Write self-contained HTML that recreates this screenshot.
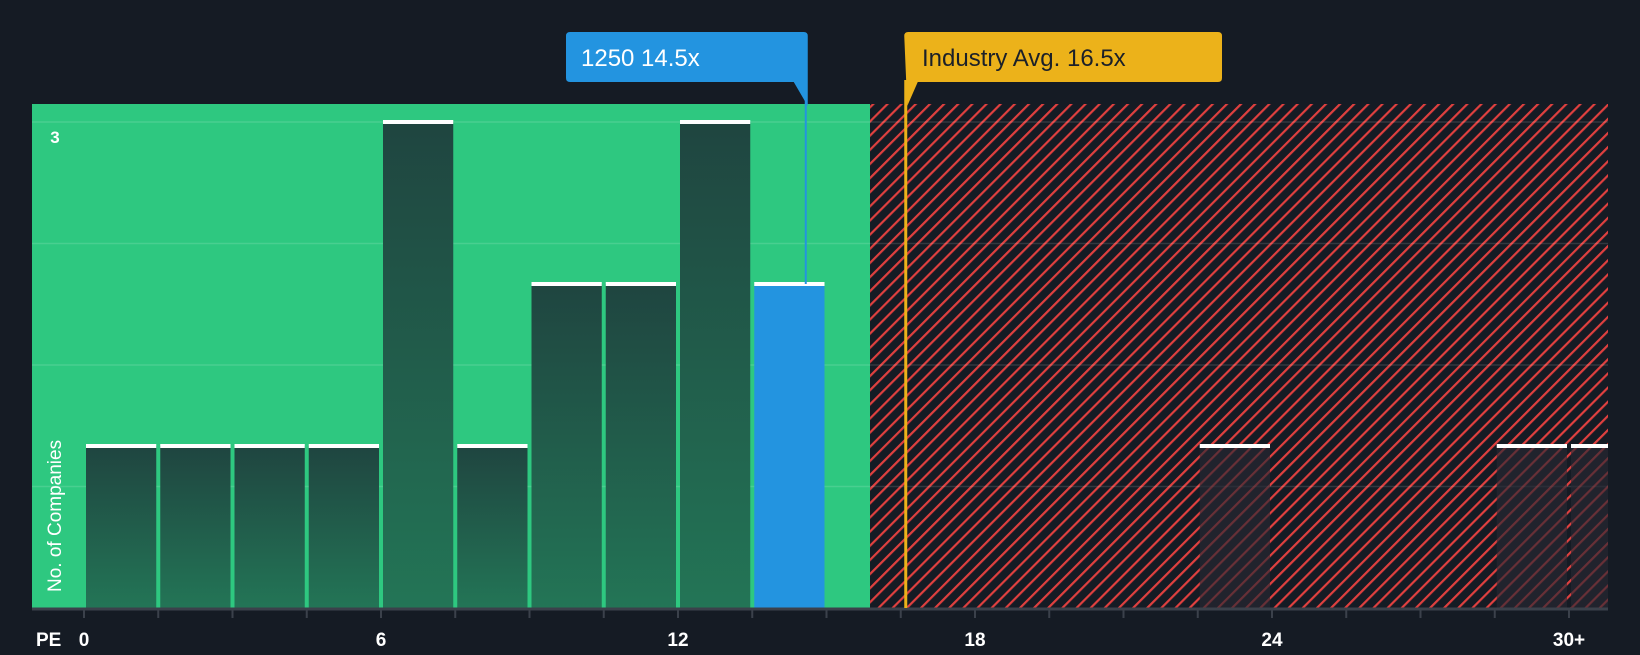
<!DOCTYPE html>
<html><head><meta charset="utf-8"><style>
html,body{margin:0;padding:0;background:#151b24;}
body{width:1640px;height:650px;overflow:hidden;font-family:"Liberation Sans",sans-serif;}
</style></head><body>
<svg width="1640" height="650" xmlns="http://www.w3.org/2000/svg" id="chart">
<defs>
<pattern id="hatch" patternUnits="userSpaceOnUse" width="10" height="10" patternTransform="rotate(45)">
<rect width="10" height="10" fill="#151b24"/>
<rect x="0" y="0" width="2.2" height="10" fill="#e0403f"/>
</pattern>
<linearGradient id="barg" x1="0" y1="0" x2="0" y2="1">
<stop offset="0" stop-color="#1f4540"/><stop offset="1" stop-color="#237556"/>
</linearGradient>
</defs>
<g id="bg"></g>
<g id="grid"></g>
<g id="bars"></g>
<g id="axis"></g>
<g id="markers"></g>
</svg>
<script>
const counts = [1,1,1,1,3,1,2,2,3,2,0,0,0,0,0,1,0,0,0,1,1];
const highlightBin = 9;
const tickLabels = ["0","6","12","18","24","30+"];
const tickValues = [0,6,12,18,24,30];
const companyPE = 14.5;
const industryPE = 16.5;
const fairLimit = 15.88;
const gridValues = [0.75,1.5,2.25,3];

const L=32,R=1608,T=104,B=608;
const x0=84, ppu=49.5, binW=1.5;
const xs=v=>x0+v*ppu;
const ys=c=>B-c*162;
const markerOffset=5;
const NS='http://www.w3.org/2000/svg';
function mk(parent,tag,attrs){const e=document.createElementNS(NS,tag);for(const k in attrs)e.setAttribute(k,attrs[k]);document.getElementById(parent).appendChild(e);return e;}

let e=mk('bg','rect',{x:L,y:T,width:xs(fairLimit)-L,height:B-T,fill:'#2ec880'});


e=mk('bg','rect',{x:xs(fairLimit),y:T,width:R-xs(fairLimit),height:B-T,fill:'url(#hatch)'});



gridValues.forEach(g=>{
 const el=mk('grid','line',{x1:L,x2:R,y1:ys(g),y2:ys(g),stroke:'rgba(255,255,255,0.13)','stroke-width':1.5});
 
 
});

counts.forEach((c,i)=>{
 if(!c)return;
 const xa=xs(i*binW)+2, xb=Math.min(xs((i+1)*binW)-2,R);
 const inRed = xs(i*binW)>=xs(fairLimit);
 const fill = i===highlightBin?'#2394e0':(inRed?'rgba(40,40,50,0.65)':'url(#barg)');
 const b=mk('bars','rect',{x:xa,y:ys(c),width:xb-xa,height:B-ys(c),fill:fill});
 
 
 const cap=mk('bars','rect',{x:xa,y:ys(c)-2,width:xb-xa,height:4,fill:'#ffffff'});
 
 
});

e=mk('axis','line',{x1:L,x2:R,y1:B+1,y2:B+1,stroke:'#3b414b','stroke-width':3});


for(let i=0;i<=20;i++){
 const t=mk('axis','line',{x1:xs(i*binW),x2:xs(i*binW),y1:B,y2:B+10,stroke:'#3b414b','stroke-width':2});
 
 
}
tickValues.forEach((v,i)=>{
 const t=mk('axis','text',{x:xs(v),y:646,'text-anchor':'middle',fill:'#fff','font-size':19,'font-weight':'bold'});
 t.textContent=tickLabels[i];
 
 
});
e=mk('axis','text',{x:36,y:646,fill:'#fff','font-size':19,'font-weight':'bold'});e.textContent='PE';


e=mk('axis','text',{x:55,y:143,'text-anchor':'middle',fill:'#fff','font-size':17,'font-weight':'bold'});e.textContent='3';


e=mk('axis','text',{x:0,y:0,transform:'translate(61,592) rotate(-90)',fill:'#fff','font-size':19});e.textContent='No. of Companies';



const cx=xs(companyPE)+markerOffset-1, ix=xs(industryPE)+markerOffset;
e=mk('markers','line',{x1:cx,x2:cx,y1:80,y2:ys(counts[highlightBin]),stroke:'#2394e0','stroke-width':2});


e=mk('markers','path',{d:`M566 36 q0-4 4-4 H${cx-2} q4 0 4 4 V106 L${cx-12} 82 H570 q-4 0 -4-4 Z`,fill:'#2394e0'});


e=mk('markers','text',{x:581,y:66,fill:'#fff','font-size':24});e.textContent='1250 14.5x';


e=mk('markers','line',{x1:ix,x2:ix,y1:80,y2:B,stroke:'#ecb21a','stroke-width':3});


e=mk('markers','path',{d:`M${ix-1.5} 36 q0-4 4-4 H1218 q4 0 4 4 V78 q0 4-4 4 H${ix+12} L${ix+1.5} 106 Z`,fill:'#ecb21a'});


e=mk('markers','text',{x:922,y:66,fill:'#1b2029','font-size':24});e.textContent='Industry Avg. 16.5x';


</script>
</body></html>
